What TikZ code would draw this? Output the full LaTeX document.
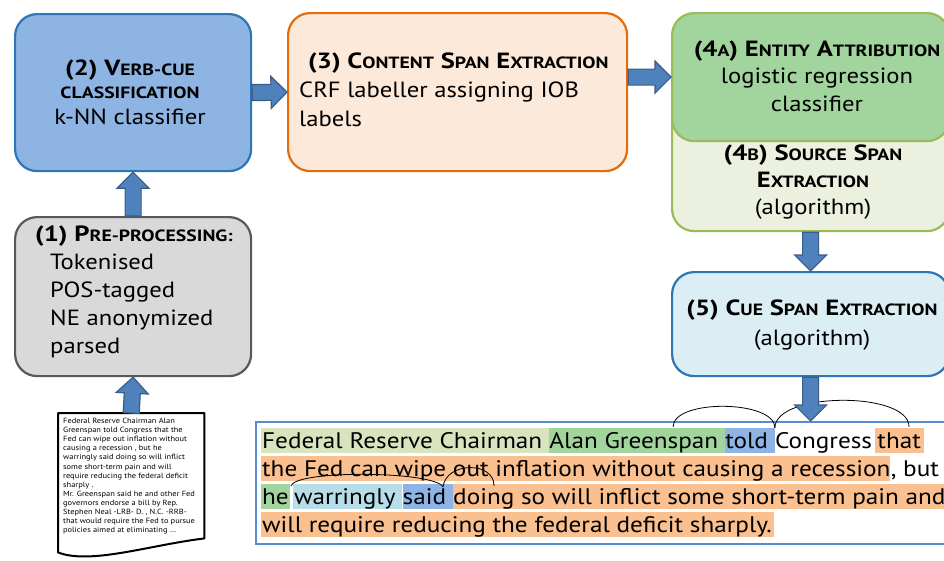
\documentclass[tikz,border=0pt]{standalone}
\usepackage{fontspec}
\setmainfont{PT Sans}[FakeStretch=1.12, BoldFeatures={FakeStretch=1.21}]
\usetikzlibrary{calc}

\definecolor{vbfill}{HTML}{8EB4E3}
\definecolor{vbline}{HTML}{2E75B6}
\definecolor{orfill}{HTML}{FDE9D9}
\definecolor{orline}{HTML}{E46C0A}
\definecolor{grfill}{HTML}{A2D59E}
\definecolor{grline}{HTML}{9BBB59}
\definecolor{lgfill}{HTML}{EBF1DE}
\definecolor{gyfill}{HTML}{D9D9D9}
\definecolor{gyline}{HTML}{595959}
\definecolor{cyfill}{HTML}{DAEEF3}
\definecolor{arfill}{HTML}{4F81BD}
\definecolor{arline}{HTML}{385D8A}
\definecolor{tbline}{HTML}{5A8AD0}
\definecolor{hlsrc}{HTML}{D7E4BD}
\definecolor{hlent}{HTML}{A2D59E}
\definecolor{hlcue}{HTML}{8EB4E3}
\definecolor{hlcont}{HTML}{FAC090}
\definecolor{hladv}{HTML}{B7DEE8}

% small capitals imitated at a reduced size
\newcommand\sm[1]{{\fontsize{16.3}{16.3}\selectfont #1}}
% word gap that survives at the end of a node
\newcommand\wsp{\kern0.3em}
% arrow with a wide head, drawn from tail point to tip point
\newcommand\blockarrow[2]{%
  \coordinate (ba-h) at ($(#2)!16pt!(#1)$);
  \draw[blk] ($(#1)!8pt!90:(#2)$) -- ($(ba-h)!8pt!90:(#2)$) -- ($(ba-h)!16pt!90:(#2)$)
    -- (#2) -- ($(ba-h)!16pt!-90:(#2)$) -- ($(ba-h)!8pt!-90:(#2)$) -- ($(#1)!8pt!-90:(#2)$) -- cycle;}

\tikzset{
  box/.style={rectangle, rounded corners=22pt, line width=2.2pt, inner sep=0pt, anchor=north west},
  txt/.style={inner sep=0pt},
  blk/.style={fill=arfill, draw=arline, line width=1.2pt, line join=miter},
  hl/.style={inner xsep=0pt, inner ysep=0pt, text height=20pt, text depth=5pt, anchor=base west,
    font=\fontsize{22.5}{28}\selectfont},
  deparc/.style={black, line width=0.8pt},
}

\begin{document}
\begin{tikzpicture}[x=1pt, y=-1pt]
\useasboundingbox (0,0) rectangle (944,560);
\fill[white] (0,0) rectangle (944,560);
\clip (0,0) rectangle (944,560);

% pipeline stages
\node[box, fill=vbfill, draw=vbline, minimum width=236, minimum height=157] (b2) at (14,13) {};
\node[box, fill=orfill, draw=orline, minimum width=339, minimum height=158] (b3) at (287,12) {};
\node[box, fill=lgfill, draw=grline, minimum width=277, minimum height=190] (b4b) at (671,40) {};
\node[box, fill=grfill, draw=grline, minimum width=277, minimum height=128] (b4a) at (671,12) {};
\node[box, fill=gyfill, draw=gyline, minimum width=236, minimum height=159] (b1) at (14,216) {};
\node[box, fill=cyfill, draw=vbline, minimum width=277, minimum height=104] (b5) at (671,271) {};

\node[txt, align=center, font=\fontsize{22}{23}\selectfont] (t2) at (130,92)
  {\textbf{(2) V\sm{ERB-CUE}}\\ \textbf{\sm{CLASSIFICATION}}\\[3pt] k-NN classifier};
\node[txt, align=left, anchor=west, font=\fontsize{22}{29}\selectfont] (t3) at (299,90)
  {\hspace*{9pt}\textbf{(3) C\sm{ONTENT} S\sm{PAN} E\sm{XTRACTION}}\\ CRF labeller assigning IOB\\ labels};
\node[txt, align=center, font=\fontsize{22}{27.5}\selectfont] (t4a) at (817,76)
  {\textbf{(4\sm{A}) E\sm{NTITY} A\sm{TTRIBUTION}}\\ logistic regression\\ classifier};
\node[txt, align=center, font=\fontsize{22}{27}\selectfont] (t4b) at (813,182)
  {\textbf{(4\sm{B}) S\sm{OURCE} S\sm{PAN}}\\ \textbf{E\sm{XTRACTION}}\\ (algorithm)};
\node[txt, align=center, font=\fontsize{22}{30}\selectfont] (t5) at (812,325)
  {\textbf{(5) C\sm{UE} S\sm{PAN} E\sm{XTRACTION}}\\ (algorithm)};
\node[txt, align=left, anchor=west, font=\fontsize{22}{28}\selectfont] (t1) at (35,292)
  {\textbf{(1) P\sm{RE-PROCESSING:}}\\ \hspace*{15pt}Tokenised\\ \hspace*{15pt}POS-tagged\\
   \hspace*{15pt}NE anonymized\\ \hspace*{15pt}parsed};

% input document
\node[rectangle, inner sep=0pt, minimum width=146, minimum height=125, anchor=north west] (doc) at (58,413) {};
\draw[black, line width=2pt, line join=round, fill=white]
  (doc.south west) -- (doc.north west) -- (doc.north east) -- (doc.south east)
  .. controls (150,545) and (90,565) .. ($(doc.south west)+(0,14)$) -- cycle;
\node[inner sep=0pt, anchor=north west, align=left, font=\fontsize{7.5}{9.1}\selectfont] (doctxt) at (63,418)
  {Federal Reserve Chairman Alan\\ Greenspan told Congress that the\\ Fed can wipe out inflation without\\
   causing a recession , but he\\ warringly said doing so will inflict\\ some short-term pain and will\\
   require reducing the federal deficit\\ sharply .\\ Mr. Greenspan said he and other Fed\\
   governors endorse a bill by Rep.\\ Stephen Neal -LRB- D. , N.C. -RRB-\\
   that would require the Fed to pursue\\ policies aimed at eliminating \dots};

% annotated sentence
\node[rectangle, draw=tbline, line width=2pt, fill=white, minimum width=695, minimum height=122,
  anchor=north west, inner sep=0pt] (tb) at (255,421) {};

\node[hl, fill=hlsrc] (w1) at (261,448) {\kern1pt Federal Reserve Chairman\wsp};
\node[hl, fill=hlent] (w2) at (w1.base east) {Alan Greenspan\wsp};
\node[hl, fill=hlcue] (w3) at (w2.base east) {told\wsp};
\node[hl] (w4) at (w3.base east) {Congress\kern3pt};
\node[hl, fill=hlcont] (w5) at (w4.base east) {\kern2pt that\kern3pt};

\node[hl, fill=hlcont] (v1) at (261,476) {\kern1pt the Fed can wipe out inflation without causing a recession};
\node[hl] (v2) at (v1.base east) {, but};

\node[hl, fill=hlent] (u1) at (261,504) {\kern1pt he\kern1pt};
\node[hl, fill=hladv] (u2) at ($(u1.base east)+(3,0)$) {\kern1pt warringly\wsp};
\node[hl, fill=hlcue] (u3) at (u2.base east) {said\wsp};
\node[hl, fill=hlcont] (u4) at (u3.base east) {doing so will inflict some short-term pain and\kern3pt};

\node[hl, fill=hlcont] (s1) at (261,532) {\kern1pt will require reducing the federal deficit sharply.\kern2pt};

% dependency arcs
\coordinate (a1s) at ($(w2.north east)+(-52,-1)$);
\coordinate (a2e) at ($(w5.north east)+(-15,-1)$);
\coordinate (a3s) at ($(u1.north east)+(1,2)$);
\coordinate (a3e) at ($(u3.north east)+(-10,3)$);
\coordinate (a4e) at ($(u4.north west)+(41,2)$);
\draw[deparc] (a1s) .. controls +(0,-28) and +(0,-28) .. (w3.north east);
\draw[deparc] (w3.north east) .. controls +(0,-36) and +(0,-36) .. (a2e);
\draw[deparc] (a3s) .. controls +(5,-16) and +(-10,-16) .. (a3e);
\draw[deparc] (a3e) .. controls +(3,-25) and +(0,-25) .. (a4e);

% flow arrows
\blockarrow{doc.north}{b1.south}
\blockarrow{b1.north}{b2.south}
\blockarrow{b2.east}{b3.west}
\coordinate (b3out) at (b3.east |- b4a.west);
\blockarrow{b3out}{b4a.west}
\coordinate (b4in) at (b4b.south);
\blockarrow{b4in}{b5.north}
\coordinate (tbin) at (b5.south |- tb.north);
\blockarrow{b5.south}{tbin}
\end{tikzpicture}
\end{document}
